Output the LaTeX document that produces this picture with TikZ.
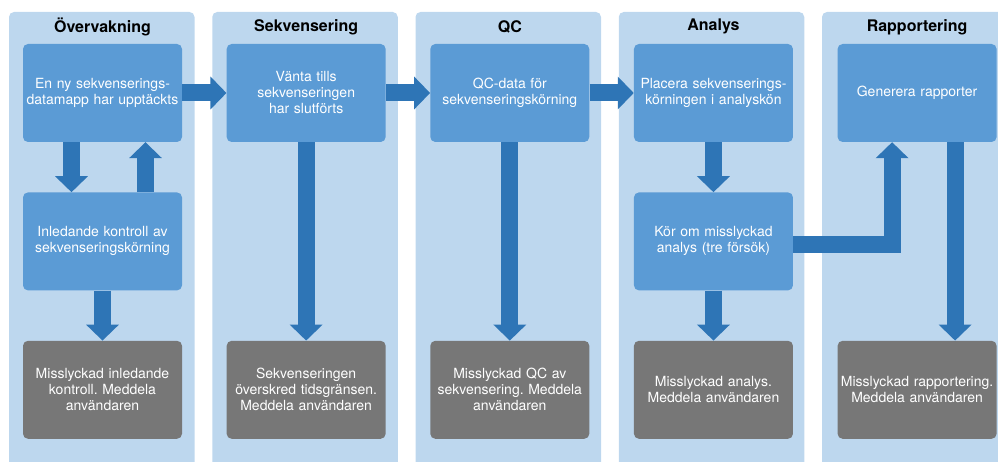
\documentclass[tikz,border=0pt]{standalone}
\usepackage{fontspec}
\setmainfont{TeX Gyre Heros}
\usepackage{xcolor}
\usetikzlibrary{arrows.meta,positioning}
\frenchspacing

\definecolor{lanebg}{HTML}{BDD7EE}
\definecolor{stepblue}{HTML}{5B9BD5}
\definecolor{flowblue}{HTML}{2E75B6}
\definecolor{failgray}{HTML}{777777}

\tikzset{
  task/.style={fill=stepblue, rounded corners=5pt, minimum width=159pt, minimum height=98pt,
               text width=155pt, align=center, text=white, inner sep=0pt,
               font=\fontsize{14}{16}\selectfont},
  fail/.style={task, fill=failgray},
  lanetitle/.style={text=black, font=\fontsize{16}{18}\selectfont\bfseries},
  flow/.style={->, draw=flowblue, line width=17pt, line join=miter}
}

\begin{document}
\begin{tikzpicture}[x=1pt, y=-1pt, >={Triangle[width=32pt,length=16pt]}, node distance=50pt and 44.25pt]
    \useasboundingbox (0,0) rectangle (998,462);
    \clip (0,0) rectangle (998,462);
    % swimlanes
    \foreach \x in {9,212.25,415.5,618.75,822}
        \fill[lanebg, rounded corners=5pt] (\x,12) rectangle ++(185.5,470);

    \node[task] (ov1) at (102.5,93) {En ny sekvenserings-\\datamapp har upptäckts};
    \node[task] (ov2) [below=of ov1] {Inledande kontroll av\\sekvenseringskörning};
    \node[fail] (ov3) [below=of ov2] {Misslyckad inledande\\kontroll. Meddela\\användaren};
    \node[task] (sk1) [right=of ov1] {Vänta tills\\sekvenseringen\\har slutförts};
    \node[fail] (sk3) [right=of ov3] {Sekvenseringen\\överskred tidsgränsen.\\Meddela användaren};
    \node[task] (qc1) [right=of sk1] {QC-data för\\sekvenseringskörning};
    \node[fail] (qc3) [right=of sk3] {Misslyckad QC av\\sekvensering. Meddela\\användaren};
    \node[task] (an1) [right=of qc1] {Placera sekvenserings-\\körningen i analyskön};
    \node[task] (an2) [below=of an1] {Kör om misslyckad\\analys (tre försök)};
    \node[fail] (an3) [right=of qc3] {Misslyckad analys.\\Meddela användaren};
    \node[task] (ra1) [right=of an1] {Generera rapporter};
    \node[fail] (ra3) [right=of an3] {Misslyckad rapportering.\\Meddela användaren};

    % lane titles
    \node[lanetitle] (tov) at ([yshift=17pt]ov1.north) {Övervakning};
    \node[lanetitle] (tsk) at ([yshift=17pt]sk1.north) {Sekvensering};
    \node[lanetitle] (tqc) at ([yshift=17pt]qc1.north) {QC};
    \node[lanetitle] (tan) at ([yshift=17pt]an1.north) {Analys};
    \node[lanetitle] (tra) at ([yshift=17pt]ra1.north) {Rapportering};

    \draw[flow] (ov1) -- (sk1);
    \draw[flow] (sk1) -- (qc1);
    \draw[flow] (qc1) -- (an1);
    \draw[flow] ([xshift=-31pt]ov1.south) -- ([xshift=-31pt]ov2.north);
    \draw[flow] ([xshift=43pt]ov2.north) -- ([xshift=43pt]ov1.south);
    \draw[flow] (ov2) -- (ov3);
    \draw[flow] (sk1) -- (sk3);
    \draw[flow] (qc1) -- (qc3);
    \draw[flow] (an1) -- (an2);
    \draw[flow] (an2) -- (an3);
    \draw[flow] ([yshift=-3pt]an2.east) -| ([xshift=-25pt]ra1.south);
    \draw[flow] ([xshift=38pt]ra1.south) -- ([xshift=38pt]ra3.north);
\end{tikzpicture}
\end{document}
